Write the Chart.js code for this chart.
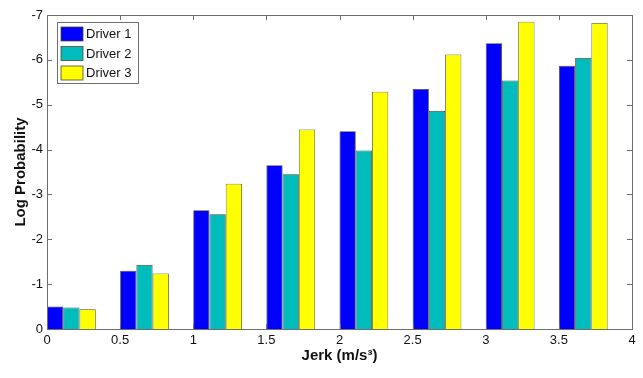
<!DOCTYPE html>
<html>
<head>
<meta charset="utf-8">
<script src="https://cdn.jsdelivr.net/npm/chart.js@4.4.1/dist/chart.umd.min.js"></script>
<style>
  html, body { margin: 0; padding: 0; background: #fff; }
  #wrap { width: 643px; height: 378px; }
</style>
</head>
<body>
<div id="wrap"><canvas id="jerkChart" width="643" height="378"></canvas></div>
<script>
// group centres on the jerk axis (m/s^3)
const groupCentres = [0.1667, 0.6667, 1.1667, 1.6667, 2.1667, 2.6667, 3.1667, 3.6667];
const seriesNames = ["Driver 1", "Driver 2", "Driver 3"];
// magnitudes of log probability (axis shows them as negatives)
const driver1 = [0.50, 1.30, 2.65, 3.65, 4.41, 5.35, 6.37, 5.87];
const driver2 = [0.48, 1.43, 2.56, 3.45, 3.98, 4.86, 5.54, 6.04];
const driver3 = [0.44, 1.24, 3.24, 4.45, 5.29, 6.12, 6.85, 6.82];
const xTicks = [0, 0.5, 1, 1.5, 2, 2.5, 3, 3.5, 4];
const yTicks = [0, 1, 2, 3, 4, 5, 6, 7];
const seriesColors = ["#0000ff", "#00bcbc", "#ffff00"];

const fontName = "'Liberation Sans', Arial, sans-serif";

const toPoints = (vals) => vals.map((v, i) => ({ x: groupCentres[i], y: v }));

const datasets = [driver1, driver2, driver3].map((vals, i) => ({
  label: seriesNames[i],
  data: toPoints(vals),
  backgroundColor: seriesColors[i],
  borderColor: "#4a4a2a",
  borderWidth: 0.8,
  categoryPercentage: 0.6667,
  barPercentage: 1.0,
}));

// draws the matlab style box, inward ticks and legend
const matlabFrame = {
  id: "matlabFrame",
  afterDraw(chart) {
    const ctx = chart.ctx;
    const area = chart.chartArea;
    const xs = chart.scales.x;
    const ys = chart.scales.y;
    ctx.save();
    ctx.strokeStyle = "#6e6e6e";
    ctx.lineWidth = 1;
    ctx.strokeRect(area.left + 0.5, area.top + 0.5, area.right - area.left, area.bottom - area.top);
    ctx.beginPath();
    xTicks.forEach((t) => {
      const px = Math.round(xs.getPixelForValue(t)) + 0.5;
      ctx.moveTo(px, area.bottom);
      ctx.lineTo(px, area.bottom - 5);
      ctx.moveTo(px, area.top);
      ctx.lineTo(px, area.top + 5);
    });
    yTicks.forEach((t) => {
      const py = Math.round(ys.getPixelForValue(t)) + 0.5;
      ctx.moveTo(area.left, py);
      ctx.lineTo(area.left + 5, py);
      ctx.moveTo(area.right, py);
      ctx.lineTo(area.right - 5, py);
    });
    ctx.stroke();

    // legend box
    const lx = area.left + 10, ly = area.top + 7;
    const lw = 81, lh = 61;
    ctx.fillStyle = "#fff";
    ctx.fillRect(lx, ly, lw, lh);
    ctx.strokeStyle = "#6e6e6e";
    ctx.strokeRect(lx + 0.5, ly + 0.5, lw, lh);
    ctx.font = "13px " + fontName;
    ctx.textBaseline = "middle";
    chart.data.datasets.forEach((ds, i) => {
      const rowY = ly + 5 + i * 19.5;
      ctx.fillStyle = ds.backgroundColor;
      ctx.fillRect(lx + 4, rowY, 22, 14);
      ctx.strokeStyle = "#4a4a2a";
      ctx.lineWidth = 0.8;
      ctx.strokeRect(lx + 4, rowY, 22, 14);
      ctx.fillStyle = "#111";
      ctx.fillText(ds.label, lx + 29, rowY + 7.5);
    });
    ctx.restore();
  },
};

new Chart(document.getElementById("jerkChart"), {
  type: "bar",
  data: { datasets: datasets },
  options: {
    responsive: false,
    animation: false,
    devicePixelRatioOverride: 1,
    layout: { padding: { top: 15, right: 11, left: 0, bottom: 0 } },
    plugins: {
      legend: { display: false },
      tooltip: { enabled: false },
    },
    scales: {
      x: {
        type: "linear",
        min: 0,
        max: 4,
        offset: false,
        afterBuildTicks: (scale) => { scale.ticks = xTicks.map((v) => ({ value: v })); },
        afterFit: (scale) => { scale.height = 49; },
        grid: { display: false, drawTicks: false },
        border: { display: false },
        ticks: {
          color: "#111",
          font: { family: fontName, size: 13 },
          padding: 4,
          maxRotation: 0,
          callback: (v) => String(v),
        },
        title: {
          display: true,
          text: "Jerk (m/s³)",
          color: "#111",
          font: { family: fontName, size: 15, weight: "bold" },
          padding: { top: 0, bottom: 13 },
        },
      },
      y: {
        min: 0,
        max: 7,
        afterBuildTicks: (scale) => { scale.ticks = yTicks.map((v) => ({ value: v })); },
        afterFit: (scale) => { scale.width = 47; },
        grid: { display: false, drawTicks: false },
        border: { display: false },
        ticks: {
          color: "#111",
          font: { family: fontName, size: 13 },
          padding: 4,
          callback: (v) => (v === 0 ? "0" : "-" + v),
        },
        title: {
          display: true,
          text: "Log Probability",
          color: "#111",
          font: { family: fontName, size: 15, weight: "bold" },
          padding: { top: 12, bottom: 0 },
        },
      },
    },
  },
  plugins: [matlabFrame],
});
</script>
</body>
</html>
